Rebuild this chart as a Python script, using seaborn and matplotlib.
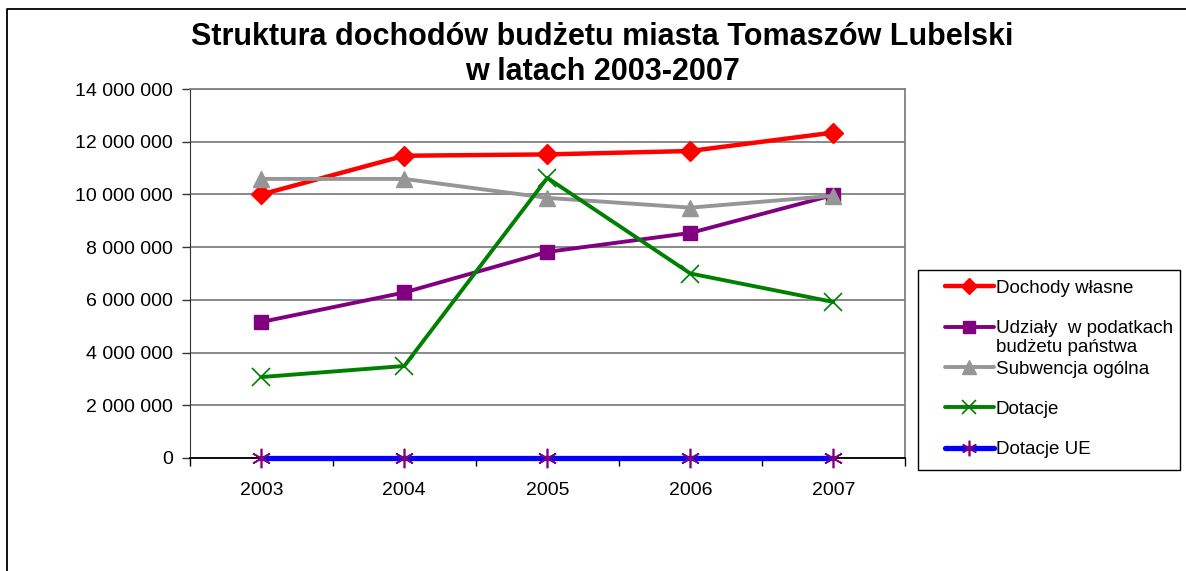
import matplotlib
matplotlib.use("Agg")
import matplotlib.pyplot as plt
import seaborn as sns
import pandas as pd
from matplotlib.lines import Line2D
from matplotlib.patches import Rectangle
from matplotlib.ticker import FuncFormatter, FixedLocator

years = [2003, 2004, 2005, 2006, 2007]
dochody_wlasne = [10000000, 11470000, 11520000, 11650000, 12350000]
udzialy = [5160000, 6280000, 7820000, 8540000, 9980000]
subwencja = [10590000, 10590000, 9870000, 9500000, 9950000]
dotacje = [3070000, 3490000, 10630000, 7000000, 5920000]
dotacje_ue = [0, 0, 0, 0, 0]

series = {
    "Dochody własne": dochody_wlasne,
    "Udziały  w podatkach": udzialy,
    "Subwencja ogólna": subwencja,
    "Dotacje": dotacje,
    "Dotacje UE": dotacje_ue,
}
label_cont = "budżetu państwa"  # second line of the "Udziały" legend label
styles = {
    "Dochody własne": dict(color="#FF0000", marker="D", ms=10, mfc="#FF0000", mec="#FF0000", lw=3.2),
    "Udziały  w podatkach": dict(color="#800080", marker="s", ms=10, mfc="#800080", mec="#800080", lw=2.8),
    "Subwencja ogólna": dict(color="#969696", marker="^", ms=12, mfc="#969696", mec="#969696", lw=2.8),
    "Dotacje": dict(color="#008000", marker="x", ms=13, mfc="#008000", mec="#008000", mew=1.2, lw=2.8),
    "Dotacje UE": dict(color="#0000FF", marker=(6, 2, 0), ms=14, mfc="#800080", mec="#800080", mew=1.2, lw=3.8),
}

sns.set_style("white")
plt.rcParams["font.family"] = ["Liberation Sans", "DejaVu Sans"]
plt.rcParams["text.color"] = "black"
plt.rcParams["xtick.color"] = "black"
plt.rcParams["ytick.color"] = "black"

fig = plt.figure(figsize=(11.86, 5.71), dpi=100)
ax = fig.add_axes([0.160, 0.198, 0.603, 0.646])

for name, vals in series.items():
    df = pd.DataFrame({"rok": years, "wartosc": vals})
    st = styles[name]
    sns.lineplot(data=df, x="rok", y="wartosc", ax=ax, label=name,
                 color=st["color"], linewidth=st["lw"], marker=st["marker"],
                 markersize=st["ms"], markerfacecolor=st["mfc"],
                 markeredgecolor=st["mec"], markeredgewidth=st.get("mew", 1),
                 zorder=3, clip_on=False)

ax.set_xlim(2002.5, 2007.5)
ax.set_ylim(0, 14000000)
ax.set_yticks(range(0, 14000001, 2000000))
ax.yaxis.set_major_formatter(FuncFormatter(lambda v, p: f"{int(v):,}".replace(",", " ")))
ax.set_xticks(years)
ax.set_xticklabels([str(y) for y in years])
ax.xaxis.set_minor_locator(FixedLocator([2002.5 + i for i in range(6)]))
ax.tick_params(axis="x", which="major", length=0, pad=17, labelsize=14)
ax.tick_params(axis="x", which="minor", length=6, width=1, color="black", direction="out", bottom=True)
ax.tick_params(axis="y", length=6, width=1, color="#333333", direction="out", left=True, labelsize=14, pad=6)
ax.set_xlabel("")
ax.set_ylabel("")
ax.grid(axis="y", color="#808080", linewidth=1.3)
ax.set_axisbelow(True)
for s in ["top", "right"]:
    ax.spines[s].set_color("#808080")
    ax.spines[s].set_linewidth(1.3)
ax.spines["left"].set_color("#333333")
ax.spines["bottom"].set_color("#000000")
ax.spines["bottom"].set_linewidth(1.3)

ax.get_legend().remove()
handles = []
for name in series:
    st = styles[name]
    handles.append(Line2D([], [], color=st["color"], lw=st["lw"], marker=st["marker"],
                          ms=st["ms"] * 0.8, mfc=st["mfc"], mec=st["mec"],
                          mew=st.get("mew", 1)))
# legend frame drawn separately, entries placed inside it
fig.add_artist(Rectangle((918 / 1186, 1 - 470 / 571), 262 / 1186, 200 / 571,
                         transform=fig.transFigure, fill=False,
                         edgecolor="black", lw=1.0))
leg = fig.legend(handles, list(series), loc="center left",
                 bbox_to_anchor=(945 / 1186, 1 - 369 / 571),
                 fontsize=13.5, frameon=False, handlelength=2.6,
                 handletextpad=0.1, labelspacing=1.24, borderpad=0,
                 borderaxespad=0)

fig.suptitle("Struktura dochodów budżetu miasta Tomaszów Lubelski\nw latach 2003-2007",
             x=0.508, y=0.962, fontsize=22, fontweight="bold", linespacing=1.25)

fig.add_artist(Line2D([7 / 1186, 7 / 1186, 1.0], [0.0, 1 - 9 / 571, 1 - 9 / 571],
                      transform=fig.transFigure, color="black", lw=1.3))

# continuation line of the second legend label, just under its first line
fig.canvas.draw()
bb = leg.get_texts()[1].get_window_extent().transformed(fig.transFigure.inverted())
fig.text(bb.x0, bb.y0 - 2 / 571, label_cont, fontsize=13.5, ha="left", va="top")

fig.savefig("out.png", dpi=100)
